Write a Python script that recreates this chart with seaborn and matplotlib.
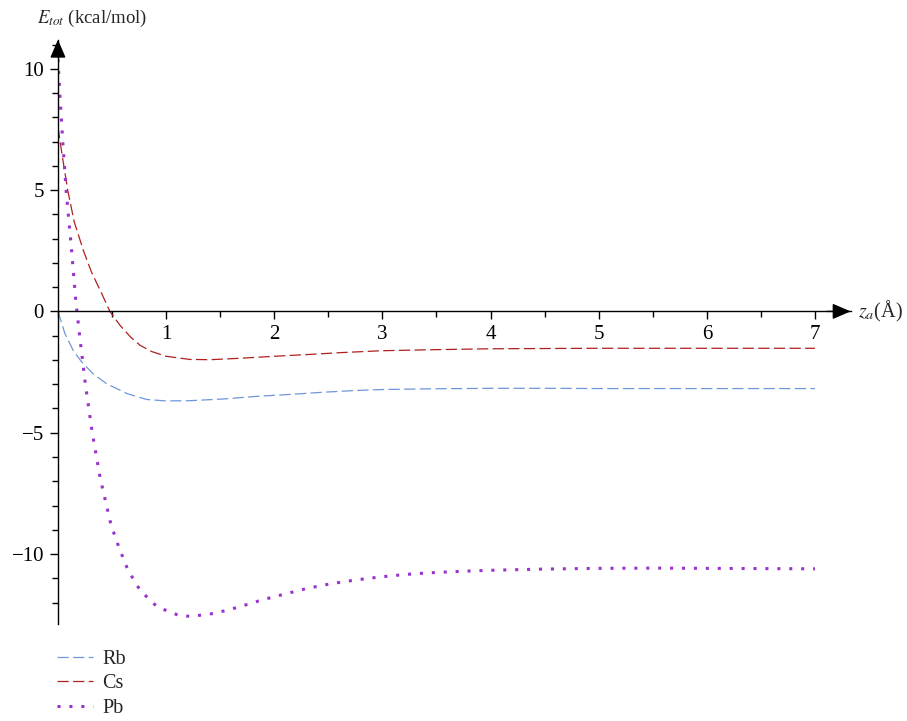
import matplotlib
matplotlib.use("Agg")
import matplotlib.pyplot as plt
import seaborn as sns
import numpy as np
import pandas as pd
from matplotlib.ticker import MultipleLocator, FixedLocator

# values
rb_x = [0, 0.065, 0.14, 0.22, 0.33, 0.45, 0.64, 0.82, 1.0, 1.22, 1.53, 1.84,
        2.15, 2.46, 2.75, 3.0, 3.45, 4.0, 4.5, 5.0, 6.0, 7.0]
rb_y = [0, -0.92, -1.6, -2.09, -2.59, -2.98, -3.39, -3.63, -3.69, -3.68, -3.61, -3.5,
        -3.42, -3.33, -3.26, -3.22, -3.19, -3.17, -3.17, -3.18, -3.18, -3.18]

cs_x = [0, 0.04, 0.09, 0.15, 0.235, 0.31, 0.405, 0.48, 0.575, 0.67, 0.76, 0.87, 1.0, 1.22,
        1.41, 1.69, 2.0, 2.3, 2.61, 3.0, 3.45, 4.0, 5.0, 6.0, 7.0]
cs_y = [7.6, 6.4, 5.0, 3.7, 2.51, 1.62, 0.73, 0.0, -0.58, -1.05, -1.4, -1.66, -1.85, -1.98,
        -1.99, -1.93, -1.85, -1.78, -1.7, -1.62, -1.58, -1.54, -1.52, -1.52, -1.52]

pb_x = [0, 0.019, 0.046, 0.077, 0.127, 0.164, 0.2, 0.253, 0.315, 0.39, 0.49, 0.565,
        0.646, 0.76, 0.918, 1.124, 1.233, 1.455, 1.668, 1.88, 2.095, 2.31, 2.53,
        2.75, 2.97, 3.19, 3.41, 3.64, 3.86, 4.08, 4.5, 5.0, 5.5, 6.0, 6.5, 7.0]
pb_y = [10.4, 8.86, 6.88, 4.91, 2.46, 0.48, -0.99, -2.98, -4.94, -6.86, -8.79, -9.74,
        -10.65, -11.5, -12.18, -12.54, -12.57, -12.44, -12.19, -11.9, -11.65, -11.41, -11.22,
        -11.07, -10.95, -10.85, -10.78, -10.73, -10.69, -10.66, -10.62, -10.59, -10.58, -10.59, -10.6, -10.61]

series_names = ["Rb", "Cs", "Pb"]
x_ticks = [1, 2, 3, 4, 5, 6, 7]
y_ticks = [-10, -5, 0, 5, 10]

sns.set_theme(style="ticks")
plt.rcParams["font.family"] = ["Liberation Serif", "DejaVu Serif"]
plt.rcParams["mathtext.fontset"] = "stix"

fig = plt.figure(figsize=(9.07, 7.21), dpi=100)
ax = fig.add_axes([0.0639, 0.135, 0.874, 0.81])

sns.lineplot(x=rb_x, y=rb_y, ax=ax, color="#6f96db", linewidth=0.9,
             linestyle=(0, (9, 3.5)), label=series_names[0], sort=False)
sns.lineplot(x=cs_x, y=cs_y, ax=ax, color="#b01f1f", linewidth=0.9,
             linestyle=(0, (9, 3.5)), label=series_names[1], sort=False)
sns.lineplot(x=pb_x, y=pb_y, ax=ax, color="#9933cc", linewidth=2.2,
             linestyle=(0, (1, 2.9)), label=series_names[2], sort=False,
             dash_capstyle="butt")

ax.set_xlim(0, 7.33)
ax.set_ylim(-12.87, 11.2)

for side in ["top", "right"]:
    ax.spines[side].set_visible(False)
ax.spines["left"].set_position(("data", 0))
ax.spines["bottom"].set_position(("data", 0))
for side in ["left", "bottom"]:
    ax.spines[side].set_linewidth(1.0)
    ax.spines[side].set_color("black")

ax.xaxis.set_major_locator(FixedLocator(x_ticks))
ax.xaxis.set_minor_locator(MultipleLocator(0.5))
ax.yaxis.set_major_locator(FixedLocator(y_ticks))
ax.yaxis.set_minor_locator(MultipleLocator(1))
ax.tick_params(which="major", direction="out", length=6, width=1.0,
               labelsize=15, colors="black", pad=4)
ax.tick_params(which="minor", direction="out", length=4, width=1.0, colors="black")
ax.set_xticklabels([str(t) for t in x_ticks])
ax.set_yticklabels(["\u221210", "\u22125", "0", "5", "10"])
ax.set_xlabel("")
ax.set_ylabel("")

# arrow heads at the ends of the axes, tip exactly at the axis end
head = dict(arrowstyle="-|>,head_length=0.7,head_width=0.3", color="black",
            lw=1.0, mutation_scale=16, shrinkA=0, shrinkB=0)
ax.annotate("", xy=(1, 0), xytext=(0.97, 0), xycoords=ax.get_yaxis_transform(),
            textcoords=ax.get_yaxis_transform(), arrowprops=head, annotation_clip=False)
ax.annotate("", xy=(0, 1), xytext=(0, 0.97), xycoords=ax.get_xaxis_transform(),
            textcoords=ax.get_xaxis_transform(), arrowprops=head, annotation_clip=False)

fig.text(37 / 907, 1 - 18 / 721, r"$E_{tot}$ (kcal/mol)", fontsize=13.5, va="center", ha="left")
fig.text(858 / 907, 1 - 311 / 721, r"$z_a$(Å)", fontsize=14.5, va="center", ha="left")

ax.legend(loc="upper left", bbox_to_anchor=(57 / 907, 1 - 650 / 721),
          bbox_transform=fig.transFigure, frameon=False, fontsize=14.5,
          handlelength=1.8, handletextpad=0.45, labelspacing=0.26,
          borderpad=0, borderaxespad=0)

fig.savefig("out.png", dpi=100)
